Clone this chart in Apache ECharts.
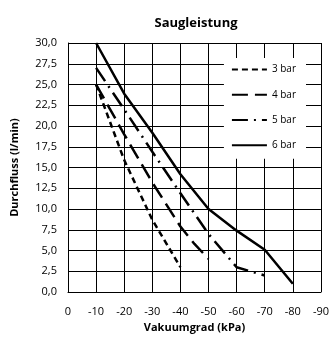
<!DOCTYPE html>
<html>
<head>
<meta charset="utf-8">
<script src="https://cdn.jsdelivr.net/npm/echarts@6/dist/echarts.min.js"></script>
<style>
  html, body { margin: 0; padding: 0; background: #fff; }
  #main { width: 332px; height: 338px; }
</style>
</head>
<body>
<div id="main"></div>
<script>
// Vakuumgrad (kPa) und Durchfluss (l/min) je Druck
var names = ['3 bar', '4 bar', '5 bar', '6 bar'];
var vac3 = [-10, -20, -30, -40];
var flow3 = [25, 15.9, 8.7, 3];
var vac4 = [-10, -20, -30, -40, -45, -50];
var flow4 = [25, 19, 13.2, 7.9, 5.8, 4];
var vac5 = [-10, -20, -30, -40, -50, -60, -70];
var flow5 = [27, 22, 16.9, 11.9, 7, 3, 2];
var vac6 = [-10, -20, -30, -40, -50, -60, -70, -80];
var flow6 = [30, 23.9, 19.2, 14.2, 10, 7.4, 5.1, 1];

var dashes = [[6, 4], [16, 7], [16, 6, 2, 6], 'solid'];

function pairs(xs, ys) {
  return xs.map(function (x, i) { return [x, ys[i]]; });
}

var chart = echarts.init(document.getElementById('main'));
var font = 'Open Sans, Liberation Sans, sans-serif';

var allData = [pairs(vac3, flow3), pairs(vac4, flow4), pairs(vac5, flow5), pairs(vac6, flow6)];

var option = {
  animation: false,
  title: {
    text: 'Saugleistung',
    left: 191, top: 12, textAlign: 'center',
    textStyle: { fontSize: 13, fontWeight: 'bold', color: '#000', fontFamily: font }
  },
  grid: { left: 68, right: 10, top: 43, bottom: 39 },
  legend: {
    right: 26, top: 58,
    orient: 'vertical',
    backgroundColor: '#fff',
    padding: [6, 10, 8, 7],
    itemGap: 14,
    itemWidth: 35, itemHeight: 14,
    itemStyle: { opacity: 0 },
    textStyle: { fontSize: 10, color: '#000', fontFamily: font },
    data: names
  },
  xAxis: {
    type: 'value', min: -90, max: 0, interval: 10, inverse: true,
    name: 'Vakuumgrad (kPa)', nameLocation: 'middle', nameGap: 28,
    nameTextStyle: { fontSize: 11, fontWeight: 'bold', color: '#000', fontFamily: font },
    axisLine: { lineStyle: { color: '#000', width: 1 } },
    axisTick: { show: false },
    axisLabel: { fontSize: 11, color: '#000', margin: 14, fontFamily: font },
    splitLine: { lineStyle: { color: '#000', width: 1 } }
  },
  yAxis: {
    type: 'value', min: 0, max: 30, interval: 2.5,
    name: 'Durchfluss (l/min)', nameLocation: 'middle', nameGap: 48,
    nameTextStyle: { fontSize: 11, fontWeight: 'bold', color: '#000', fontFamily: font },
    axisLine: { show: true, lineStyle: { color: '#000', width: 1 } },
    axisTick: { show: false },
    axisLabel: {
      fontSize: 11, color: '#000', margin: 11, fontFamily: font,
      formatter: function (v) { return v.toFixed(1).replace('.', ','); }
    },
    splitLine: { lineStyle: { color: '#000', width: 1 } }
  },
  series: names.map(function (n, i) {
    return {
      name: n, type: 'line', symbol: 'none', z: 3,
      lineStyle: { color: '#000', width: 2.5, type: dashes[i] },
      itemStyle: { color: '#000' },
      data: allData[i]
    };
  })
};
chart.setOption(option);
</script>
</body>
</html>
